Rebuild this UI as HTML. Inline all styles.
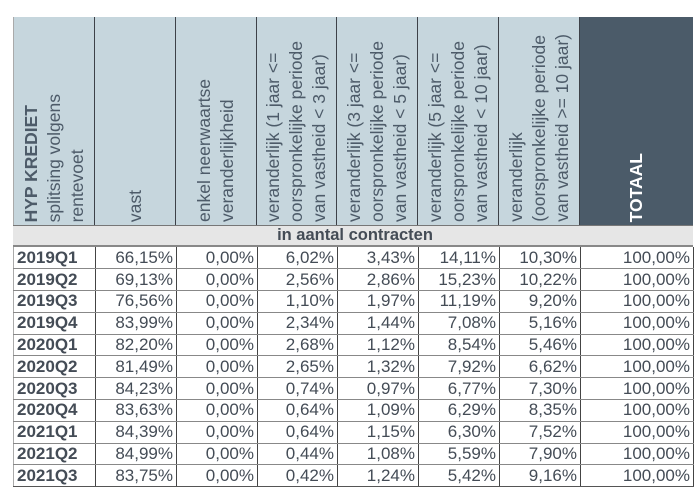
<!DOCTYPE html>
<html><head><meta charset="utf-8"><style>
body{margin:0;width:700px;height:498px;background:#fff;position:relative;overflow:hidden;font-family:"Liberation Sans",Arial,sans-serif;color:#444c56}
.h{position:absolute;top:17px;height:208px;background:#c6d6dd;border-right:1.5px solid #3d4148;box-sizing:border-box;display:flex;justify-content:center;align-items:flex-end;padding-bottom:3px}
.h div{writing-mode:vertical-rl;transform:rotate(180deg);font-size:17.5px;line-height:23px;color:#4d5b69;white-space:nowrap}
.band{position:absolute;left:13px;top:225px;width:680px;height:22px;background:#e6e6e6;border-top:1.5px solid #777;border-bottom:2px solid #888;box-sizing:border-box;text-align:center;font-weight:bold;font-size:16.5px;line-height:19px;padding-left:4px}
table{position:absolute;left:13px;top:247px;border-collapse:collapse;font-size:17px}
td{height:21.8px;padding:0 3px 0 0;text-align:right;border-left:1.5px solid #444;border-right:1.5px solid #444;border-bottom:1.5px solid #888;line-height:20px;box-sizing:border-box}
td:first-child{text-align:left;font-weight:bold;padding-left:3px;border-left:1px solid #aaa}
tr:last-child td{border-bottom:1.5px solid #555}
</style></head><body>
<div class="h" style="left:13px;width:82px;border-left:1px solid #aaa"><div><b>HYP KREDIET</b><br>splitsing volgens<br>rentevoet</div></div>
<div class="h" style="left:95px;width:81px"><div>vast</div></div>
<div class="h" style="left:176px;width:81px"><div>enkel neerwaartse<br>veranderlijkheid</div></div>
<div class="h" style="left:257px;width:80px"><div>veranderlijk (1 jaar &lt;=<br>oorspronkelijke periode<br>van vastheid &lt; 3 jaar)</div></div>
<div class="h" style="left:337px;width:81px"><div>veranderlijk (3 jaar &lt;=<br>oorspronkelijke periode<br>van vastheid &lt; 5 jaar)</div></div>
<div class="h" style="left:418px;width:81px"><div>veranderlijk (5 jaar &lt;=<br>oorspronkelijke periode<br>van vastheid &lt; 10 jaar)</div></div>
<div class="h" style="left:499px;width:81px"><div>veranderlijk<br>(oorspronkelijke periode<br>van vastheid &gt;= 10 jaar)</div></div>
<div class="h" style="left:580px;width:113px;background:#4b5b69;border-right:none"><div style="color:#fff;font-weight:bold">TOTAAL</div></div>
<div class="band">in aantal contracten</div>
<table>
<colgroup><col style="width:82px"><col style="width:81px"><col style="width:81px"><col style="width:80px"><col style="width:81px"><col style="width:81px"><col style="width:81px"><col style="width:113px"></colgroup>
<tr><td>2019Q1</td><td>66,15%</td><td>0,00%</td><td>6,02%</td><td>3,43%</td><td>14,11%</td><td>10,30%</td><td>100,00%</td></tr>
<tr><td>2019Q2</td><td>69,13%</td><td>0,00%</td><td>2,56%</td><td>2,86%</td><td>15,23%</td><td>10,22%</td><td>100,00%</td></tr>
<tr><td>2019Q3</td><td>76,56%</td><td>0,00%</td><td>1,10%</td><td>1,97%</td><td>11,19%</td><td>9,20%</td><td>100,00%</td></tr>
<tr><td>2019Q4</td><td>83,99%</td><td>0,00%</td><td>2,34%</td><td>1,44%</td><td>7,08%</td><td>5,16%</td><td>100,00%</td></tr>
<tr><td>2020Q1</td><td>82,20%</td><td>0,00%</td><td>2,68%</td><td>1,12%</td><td>8,54%</td><td>5,46%</td><td>100,00%</td></tr>
<tr><td>2020Q2</td><td>81,49%</td><td>0,00%</td><td>2,65%</td><td>1,32%</td><td>7,92%</td><td>6,62%</td><td>100,00%</td></tr>
<tr><td>2020Q3</td><td>84,23%</td><td>0,00%</td><td>0,74%</td><td>0,97%</td><td>6,77%</td><td>7,30%</td><td>100,00%</td></tr>
<tr><td>2020Q4</td><td>83,63%</td><td>0,00%</td><td>0,64%</td><td>1,09%</td><td>6,29%</td><td>8,35%</td><td>100,00%</td></tr>
<tr><td>2021Q1</td><td>84,39%</td><td>0,00%</td><td>0,64%</td><td>1,15%</td><td>6,30%</td><td>7,52%</td><td>100,00%</td></tr>
<tr><td>2021Q2</td><td>84,99%</td><td>0,00%</td><td>0,44%</td><td>1,08%</td><td>5,59%</td><td>7,90%</td><td>100,00%</td></tr>
<tr><td>2021Q3</td><td>83,75%</td><td>0,00%</td><td>0,42%</td><td>1,24%</td><td>5,42%</td><td>9,16%</td><td>100,00%</td></tr>
</table>
</body></html>
